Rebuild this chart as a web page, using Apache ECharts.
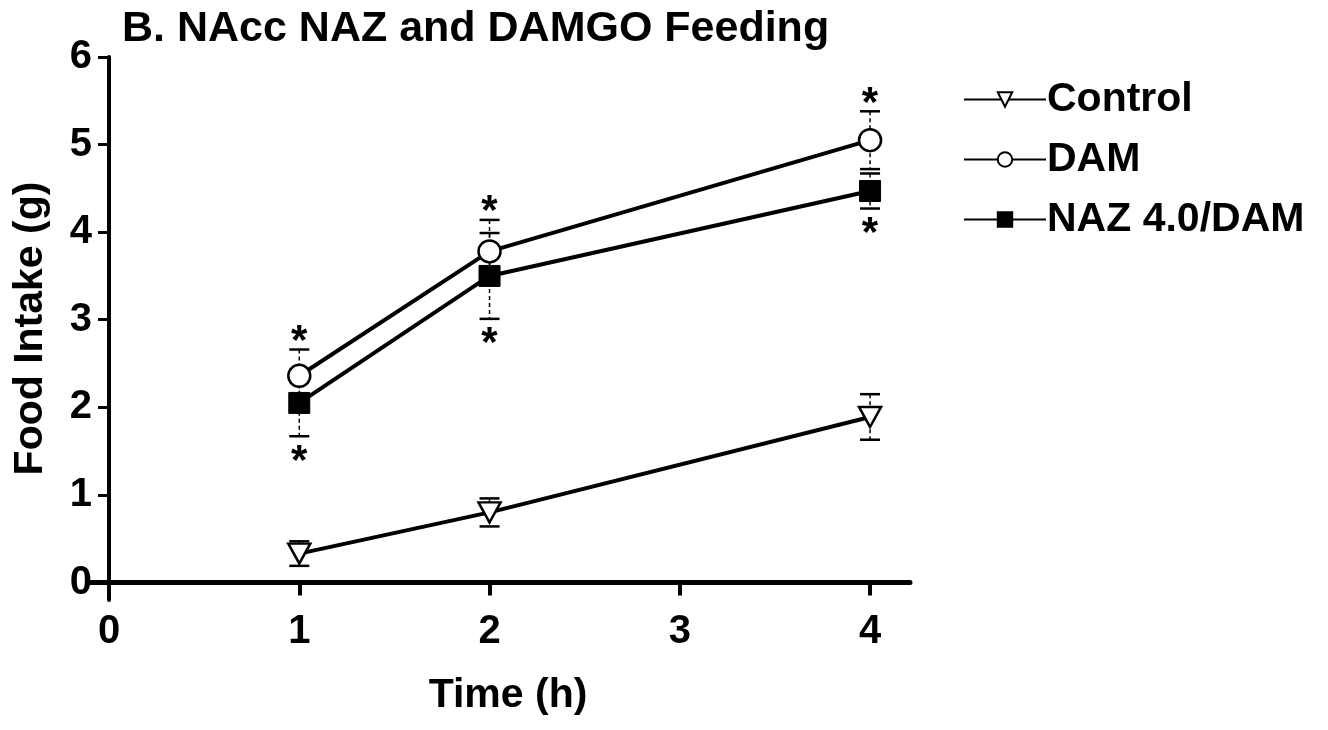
<!DOCTYPE html>
<html>
<head>
<meta charset="utf-8">
<title>NAcc NAZ and DAMGO Feeding</title>
<script src="https://cdn.jsdelivr.net/npm/echarts@6/dist/echarts.min.js"></script>
<style>
  html, body { margin: 0; padding: 0; background: #fff; }
  #chart { width: 1328px; height: 730px; }
</style>
</head>
<body>
<div id="chart"></div>
<script>
// Time points (h) and tick labels
const hours = [1, 2, 4];
const xTicks = [0, 1, 2, 3, 4];
const yTicks = [0, 1, 2, 3, 4, 5, 6];

// Food intake means and SEM (g)
const controlMean = [0.33, 0.80, 1.89];
const controlSem  = [0.14, 0.16, 0.26];
const damMean     = [2.36, 3.78, 5.05];
const damSem      = [0.30, 0.36, 0.33];
const nazMean     = [2.05, 3.50, 4.47];
const nazSem      = [0.38, 0.49, 0.20];

// Significance marks (1 = starred) and side of the star (1 above, -1 below)
const controlSig = [0, 0, 0];
const damSig     = [1, 1, 1];
const nazSig     = [1, 1, 1];

const FONT = "'Liberation Sans', Arial, Helvetica, sans-serif";
const INK = '#000';

function pairs(means) {
  return hours.map((h, i) => [h, means[i]]);
}
function errRows(means, sems, sig, side) {
  return hours.map((h, i) => [h, means[i], sems[i], sig[i], side]);
}

// Error bar: dashed stem, solid caps, optional asterisk beyond the cap
function renderErr(params, api) {
  const x = api.value(0), m = api.value(1), s = api.value(2);
  const sig = api.value(3), side = api.value(4);
  const hi = api.coord([x, m + s]);
  const lo = api.coord([x, m - s]);
  const cap = 10;
  const children = [
    { type: 'line', shape: { x1: hi[0], y1: hi[1], x2: lo[0], y2: lo[1] },
      style: { stroke: INK, lineWidth: 1.5, lineDash: [4, 3] } },
    { type: 'line', shape: { x1: hi[0] - cap, y1: hi[1], x2: hi[0] + cap, y2: hi[1] },
      style: { stroke: INK, lineWidth: 2.5 } },
    { type: 'line', shape: { x1: lo[0] - cap, y1: lo[1], x2: lo[0] + cap, y2: lo[1] },
      style: { stroke: INK, lineWidth: 2.5 } }
  ];
  if (sig) {
    const p = side > 0 ? hi : lo;
    children.push({
      type: 'text',
      style: {
        text: '*', x: p[0], y: side > 0 ? p[1] + 14 : p[1] + 47,
        fill: INK, font: 'bold 42px ' + FONT,
        textAlign: 'center', textVerticalAlign: 'bottom'
      }
    });
  }
  return { type: 'group', children };
}

const lineCommon = {
  type: 'line',
  z: 3,
  lineStyle: { color: INK, width: 4 },
  emphasis: { disabled: true },
  animation: false
};

const errCommon = {
  type: 'custom',
  renderItem: renderErr,
  z: 2,
  silent: true,
  animation: false
};

const chart = echarts.init(document.getElementById('chart'), null, { renderer: 'canvas' });
chart.setOption({
  backgroundColor: '#fff',
  animation: false,
  textStyle: { fontFamily: FONT, color: INK },
  title: {
    text: 'B. NAcc NAZ and DAMGO Feeding',
    left: 117, top: 3,
    textStyle: { fontFamily: FONT, fontSize: 43, fontWeight: 'bold', color: INK }
  },
  legend: {
    orient: 'vertical',
    left: 958, top: 74,
    itemWidth: 82, itemHeight: 18,
    itemGap: 19,
    selectedMode: false,
    textStyle: { fontFamily: FONT, fontSize: 41, fontWeight: 'bold', color: INK, padding: [0, 0, 0, -4] },
    data: ['Control', 'DAM', 'NAZ 4.0/DAM']
  },
  grid: { left: 90, right: 418, top: 57, bottom: 130, outerBoundsMode: 'none', containLabel: false },
  xAxis: {
    type: 'value',
    min: -0.1, max: 4.21,
    name: 'Time (h)',
    nameLocation: 'middle',
    nameGap: 75,
    nameMoveOverlap: false,
    nameTextStyle: { fontFamily: FONT, fontSize: 41, fontWeight: 'bold', color: INK, padding: [0, 0, 0, 16] },
    axisLine: { onZero: true, lineStyle: { color: INK, width: 5 } },
    axisTick: { show: true, length: 13, customValues: xTicks, lineStyle: { color: INK, width: 4 } },
    axisLabel: { customValues: xTicks, margin: 12, fontFamily: FONT, fontSize: 40, fontWeight: 'bold', color: INK },
    splitLine: { show: false }
  },
  yAxis: {
    type: 'value',
    min: -0.2, max: 6,
    name: 'Food Intake (g)',
    nameLocation: 'middle',
    nameGap: 39,
    nameMoveOverlap: false,
    nameTextStyle: { fontFamily: FONT, fontSize: 41, fontWeight: 'bold', color: INK },
    axisLine: { onZero: true, lineStyle: { color: INK, width: 4 } },
    axisTick: { show: true, length: 11, customValues: yTicks, lineStyle: { color: INK, width: 3 } },
    axisLabel: { customValues: yTicks, margin: -2, fontFamily: FONT, fontSize: 40, fontWeight: 'bold', color: INK },
    splitLine: { show: false }
  },
  series: [
    Object.assign({}, errCommon, { name: 'Control err', data: errRows(controlMean, controlSem, controlSig, 1) }),
    Object.assign({}, errCommon, { name: 'DAM err', data: errRows(damMean, damSem, damSig, 1) }),
    Object.assign({}, errCommon, { name: 'NAZ err', data: errRows(nazMean, nazSem, nazSig, -1) }),
    Object.assign({}, lineCommon, {
      name: 'Control',
      data: pairs(controlMean),
      symbol: 'triangle', symbolRotate: 180, symbolSize: [22, 20],
      itemStyle: { color: '#fff', borderColor: INK, borderWidth: 2.5 }
    }),
    Object.assign({}, lineCommon, {
      name: 'DAM',
      data: pairs(damMean),
      symbol: 'circle', symbolSize: 22,
      itemStyle: { color: '#fff', borderColor: INK, borderWidth: 2.5 }
    }),
    Object.assign({}, lineCommon, {
      name: 'NAZ 4.0/DAM',
      data: pairs(nazMean),
      symbol: 'rect', symbolSize: 21,
      itemStyle: { color: INK, borderColor: INK, borderWidth: 1 }
    })
  ]
});
</script>
</body>
</html>
